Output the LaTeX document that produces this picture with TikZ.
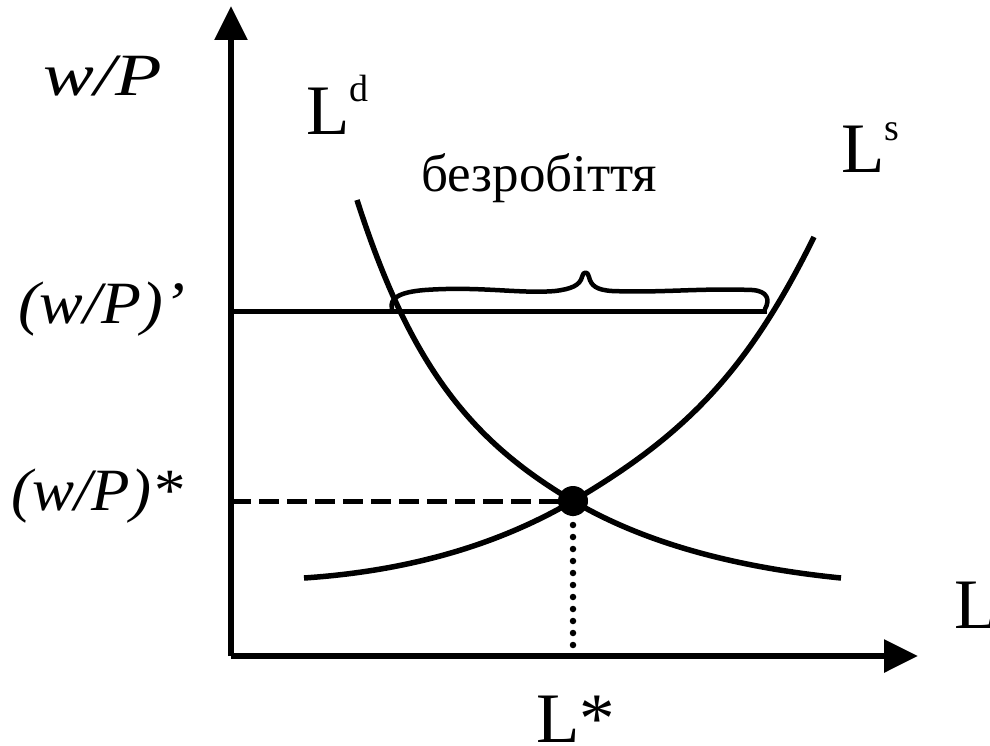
\documentclass[tikz,border=0pt]{standalone}
\usepackage{fontspec}
\setmainfont{Liberation Serif}
\usetikzlibrary{arrows.meta}
\begin{document}
\begin{tikzpicture}[x=1pt,y=-1pt,
  lbl/.style={inner sep=0pt,anchor=base west},
  itl/.style={lbl,font=\fontsize{60}{64}\selectfont\itshape},
  bigl/.style={lbl,font=\fontsize{71}{76}\selectfont},
  axis/.style={line width=6pt,-{Triangle[length=34pt,width=32pt]}},
  curve/.style={line width=5.5pt},
  bracestyle/.style={line width=4.5pt,line join=round,line cap=round}]
\useasboundingbox (0,0) rectangle (990,746);
% axes
\coordinate (O) at (231,656);
\coordinate (ytop) at (231,6);
\coordinate (xend) at (918,656);
\draw[axis] (O) -- (ytop);
\draw[axis] (O) -- (xend);
% points
\coordinate (E) at (573,501);
\coordinate (Ey) at (231,501);
\coordinate (Ex) at (573,656);
\coordinate (Hl) at (231,311);
\coordinate (Hr) at (767,311);
% labour demand
\draw[curve] (357,200) .. controls (410,365) and (469.9,440.25) .. (E)
  .. controls (641.3,541.3) and (730.6,566.9) .. (841,578);
% labour supply
\draw[curve] (304,578) .. controls (407.5,571.1) and (497.2,545.4) .. (E)
  .. controls (689.6,432.7) and (749.8,366.8) .. (814,237);
% horizontal line
\draw[line width=5pt] (Hl) -- (Hr);
% dashed and dotted guides
\draw[line width=5pt,dash pattern=on 20pt off 8pt] (Ey) -- (E);
\draw[line width=6.5pt,line cap=round,dash pattern=on 0pt off 12pt] (E) -- (Ex);
% brace
\draw[bracestyle] (392,309) .. controls (389,298) and (400,292) .. (425,290)
  .. controls (480,286) and (520,294) .. (555,291)
  .. controls (572,289) and (580,285) .. (582,277)
  .. controls (583,271) and (588,271) .. (589,277)
  .. controls (591,286) and (597,290) .. (612,291)
  .. controls (660,293) and (700,288) .. (752,290)
  .. controls (768,291) and (770,300) .. (765,309);
% equilibrium dot
\fill (E) circle (15pt);
% labels
\node[itl,xscale=1.27] (wp) at (43,96) {w/P};
\node[itl,xscale=1.09] (wpp) at (18,323) {(w/P)’};
\node[itl,xscale=1.05] (wps) at (11,510) {(w/P)*};
\node[bigl] (Ld) at (306,135) {L\raisebox{33pt}{\fontsize{38}{40}\selectfont d}};
\node[bigl] (Ls) at (841,173) {L\raisebox{32pt}{\fontsize{38}{40}\selectfont s}};
\node[bigl] (Lax) at (954,628) {L};
\node[bigl] (Lst) at (536,742) {L*};
\node[lbl,font=\fontsize{53}{58}\selectfont] (unemp) at (421,192) {безробіття};
\end{tikzpicture}
\end{document}
